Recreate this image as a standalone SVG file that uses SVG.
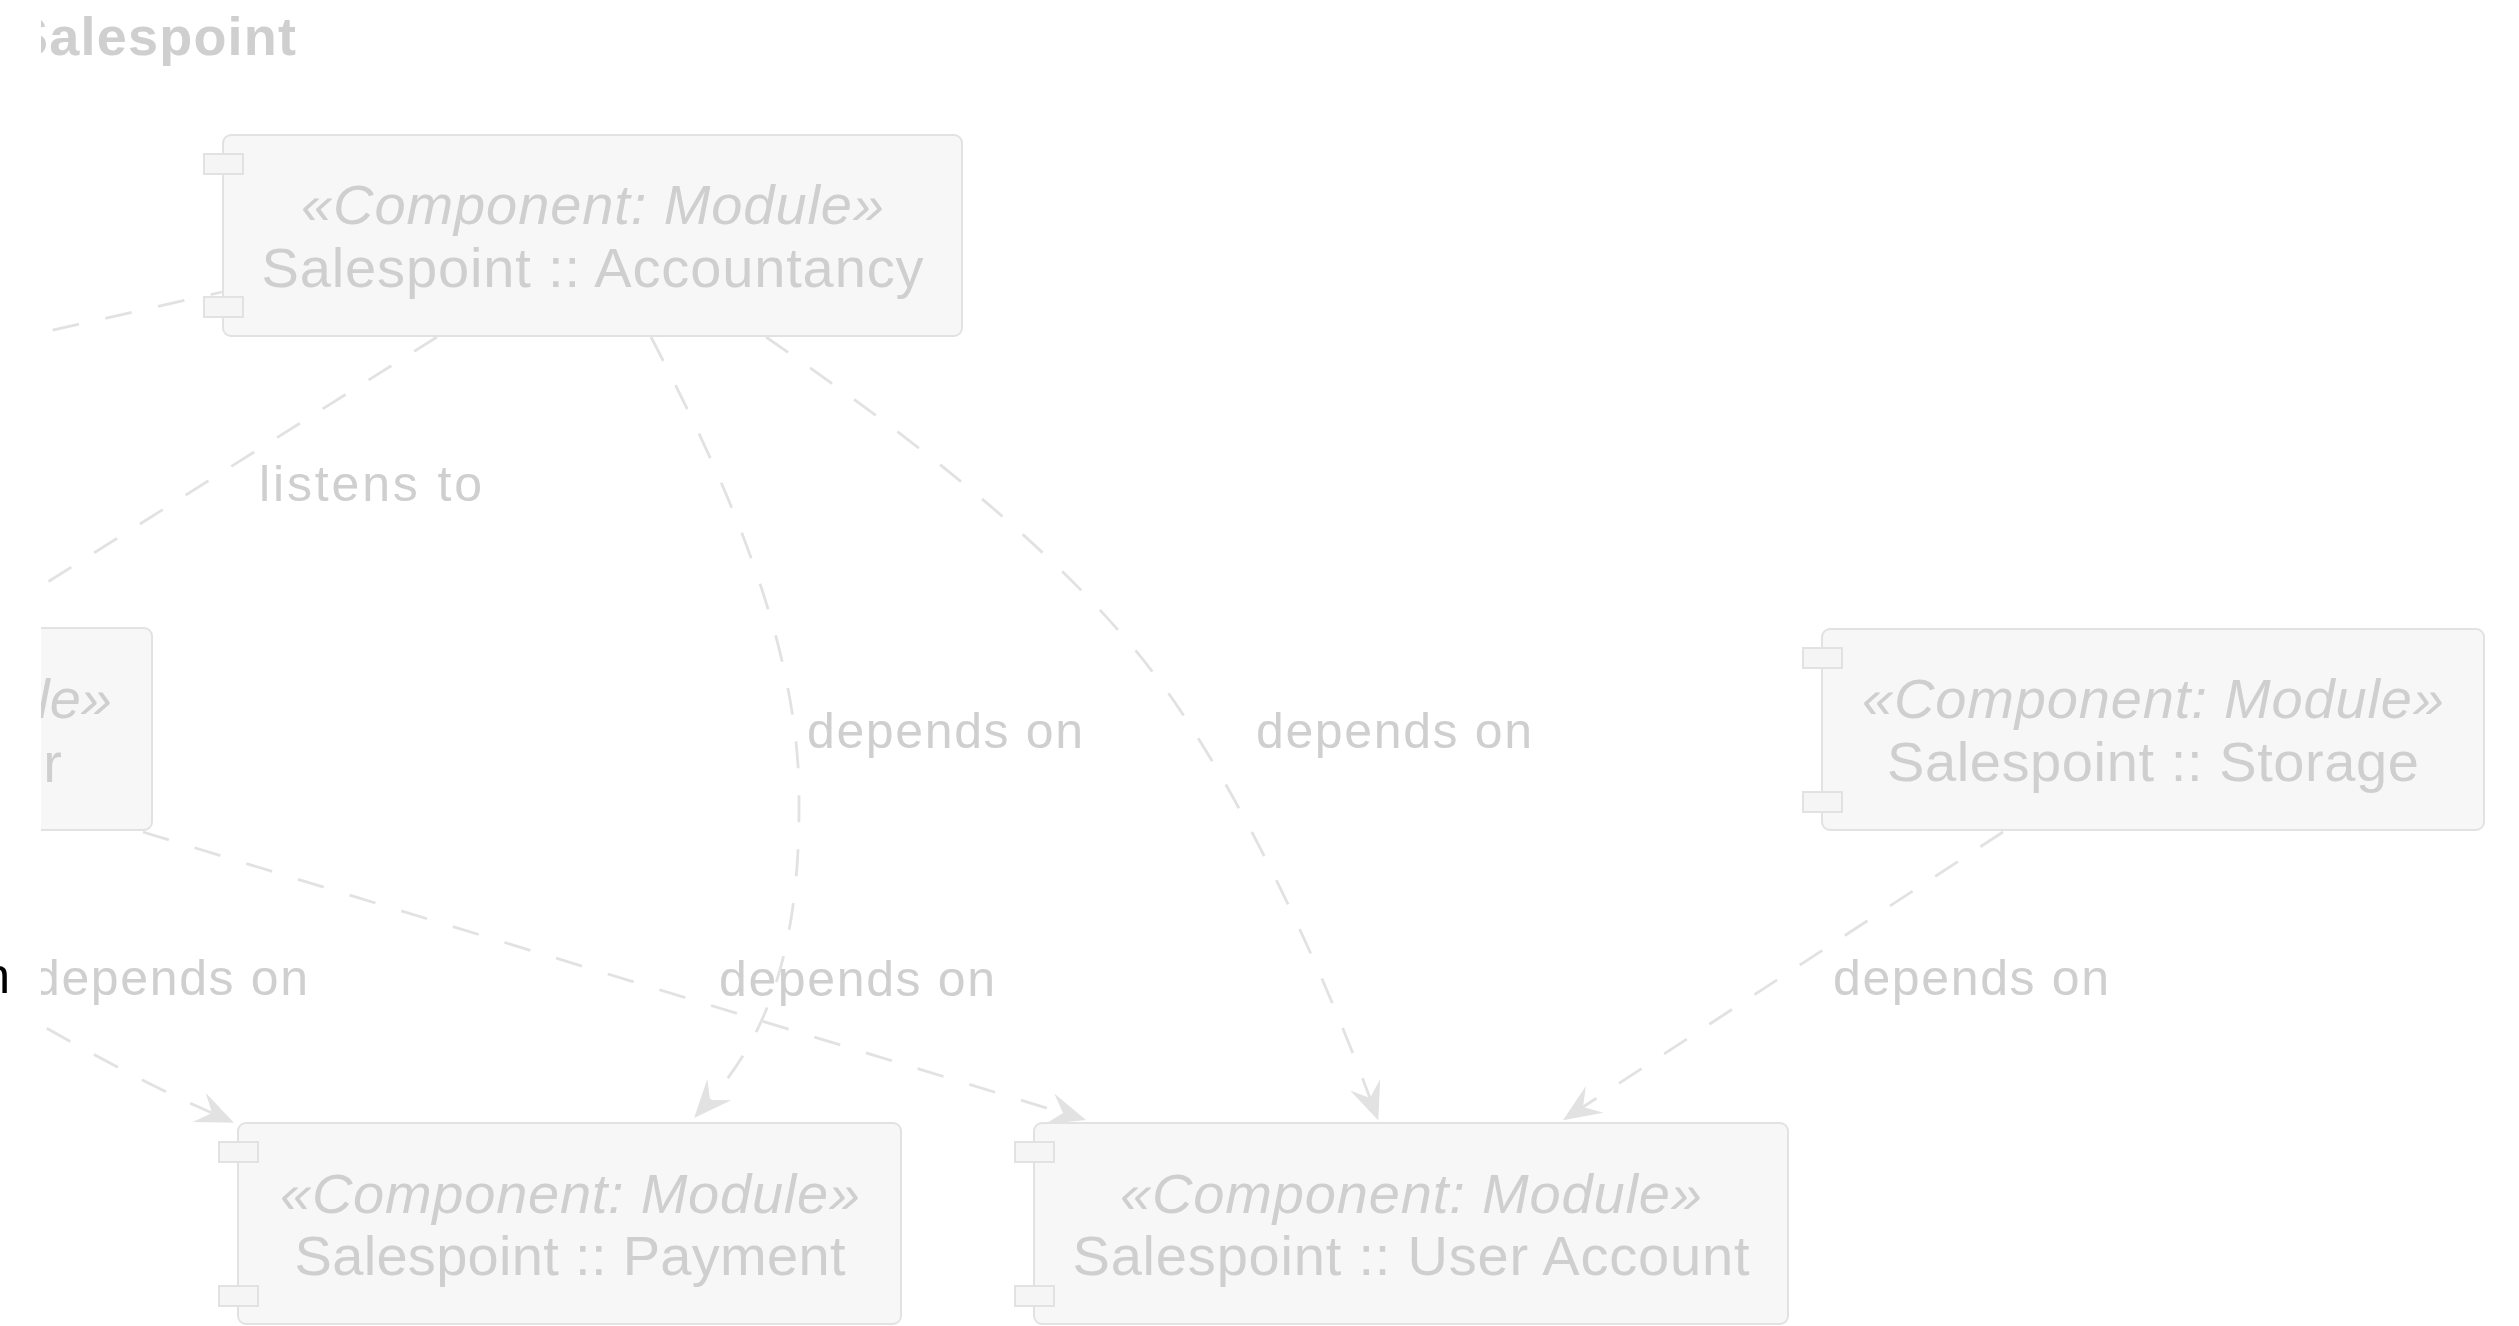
<svg xmlns="http://www.w3.org/2000/svg" width="2519" height="1326" viewBox="0 0 2519 1326">
  <style>
    .body { fill: #f7f7f7; stroke: #e2e2e2; stroke-width: 2; }
    .port { fill: #f5f5f5; stroke: #e2e2e2; stroke-width: 2; }
    .stereo { font-family: "Liberation Sans", Arial, sans-serif; font-style: italic; font-size: 56px; fill: #cfcfcf; text-anchor: middle; }
    .name { font-family: "Liberation Sans", Arial, sans-serif; font-size: 56px; fill: #cfcfcf; text-anchor: middle; }
    .title { font-family: "Liberation Sans", Arial, sans-serif; font-weight: bold; font-size: 54px; fill: #cfcfcf; }
    .label { font-family: "Liberation Sans", Arial, sans-serif; font-size: 50px; fill: #cfcfcf; }
    .edge { fill: none; stroke: #e2e2e2; stroke-width: 2.8; stroke-dasharray: 27 27; }
  </style>
  <defs>
    <clipPath id="view">
      <rect x="41" y="0" width="2478" height="1326"/>
    </clipPath>
    <marker id="arrow" markerUnits="userSpaceOnUse" viewBox="-20 -20 50 40" markerWidth="50" markerHeight="40" refX="0" refY="0" orient="auto">
      <path d="M24,0 L-14,-16 L0,0 L-14,16 Z" fill="#e2e2e2"/>
    </marker>
  </defs>

  <rect x="0" y="0" width="2519" height="1326" fill="#ffffff"/>

  <g clip-path="url(#view)">
    <text class="title" x="12" y="55" textLength="284" lengthAdjust="spacing">Salespoint</text>

    <g id="node-order">
      <rect class="body" x="-200" y="628" width="352" height="202" rx="8"/>
      <text class="stereo" x="112" y="718" style="text-anchor:end">le»</text>
      <text class="name" x="62" y="782" style="text-anchor:end">r</text>
    </g>

    <g id="node-accountancy">
      <rect class="body" x="223" y="135" width="739" height="201" rx="8"/>
      <rect class="port" x="204" y="154" width="39" height="20"/>
      <rect class="port" x="204" y="297" width="39" height="20"/>
      <text class="stereo" x="592.5" y="224" textLength="583" lengthAdjust="spacing">«Component: Module»</text>
      <text class="name" x="592.5" y="287" textLength="662" lengthAdjust="spacing">Salespoint :: Accountancy</text>
    </g>

    <g id="node-storage">
      <rect class="body" x="1822" y="629" width="662" height="201" rx="8"/>
      <rect class="port" x="1803" y="648" width="39" height="20"/>
      <rect class="port" x="1803" y="792" width="39" height="20"/>
      <text class="stereo" x="2153" y="718" textLength="582" lengthAdjust="spacing">«Component: Module»</text>
      <text class="name" x="2153" y="781" textLength="532" lengthAdjust="spacing">Salespoint :: Storage</text>
    </g>

    <g id="node-payment">
      <rect class="body" x="238" y="1123" width="663" height="201" rx="8"/>
      <rect class="port" x="219" y="1142" width="39" height="20"/>
      <rect class="port" x="219" y="1286" width="39" height="20"/>
      <text class="stereo" x="570" y="1213" textLength="580" lengthAdjust="spacing">«Component: Module»</text>
      <text class="name" x="570" y="1275" textLength="551" lengthAdjust="spacing">Salespoint :: Payment</text>
    </g>

    <g id="node-useraccount">
      <rect class="body" x="1034" y="1123" width="754" height="201" rx="8"/>
      <rect class="port" x="1015" y="1142" width="39" height="20"/>
      <rect class="port" x="1015" y="1286" width="39" height="20"/>
      <text class="stereo" x="1411" y="1213" textLength="582" lengthAdjust="spacing">«Component: Module»</text>
      <text class="name" x="1411" y="1275" textLength="677" lengthAdjust="spacing">Salespoint :: User Account</text>
    </g>

    <g id="connectors">
      <!-- into Accountancy from the left -->
      <path class="edge" d="M0,342 L222,292"/>
      <!-- Accountancy listens to Order -->
      <path class="edge" d="M437,337 L0,612"/>
      <text class="label" x="259" y="501" textLength="223" lengthAdjust="spacing">listens to</text>
      <!-- Accountancy depends on Payment -->
      <path class="edge" d="M651,337 C720,470 800,640 799,800 C800,940 772,1030 710,1100" marker-end="url(#arrow)"/>
      <text class="label" x="807" y="748" textLength="276" lengthAdjust="spacing">depends on</text>
      <!-- Accountancy depends on User Account -->
      <path class="edge" d="M766,337 C900,430 1080,560 1180,710 C1260,830 1330,990 1370,1098" marker-end="url(#arrow)"/>
      <text class="label" x="1256" y="748" textLength="276" lengthAdjust="spacing">depends on</text>
      <!-- Order depends on Payment -->
      <path class="edge" d="M0,1001 C100,1060 160,1090 212,1113" marker-end="url(#arrow)"/>
      <text class="label" x="32" y="995" textLength="276" lengthAdjust="spacing">depends on</text>
      <!-- Order depends on User Account -->
      <path class="edge" d="M143,832 L1063,1113" marker-end="url(#arrow)"/>
      <text class="label" x="719" y="996" textLength="276" lengthAdjust="spacing">depends on</text>
      <!-- Storage depends on User Account -->
      <path class="edge" d="M2003,832 L1583,1107" marker-end="url(#arrow)"/>
      <text class="label" x="1833" y="995" textLength="276" lengthAdjust="spacing">depends on</text>
    </g>
  </g>

  <text class="label" x="10" y="993" style="fill:#000000;text-anchor:end">n</text>
</svg>
